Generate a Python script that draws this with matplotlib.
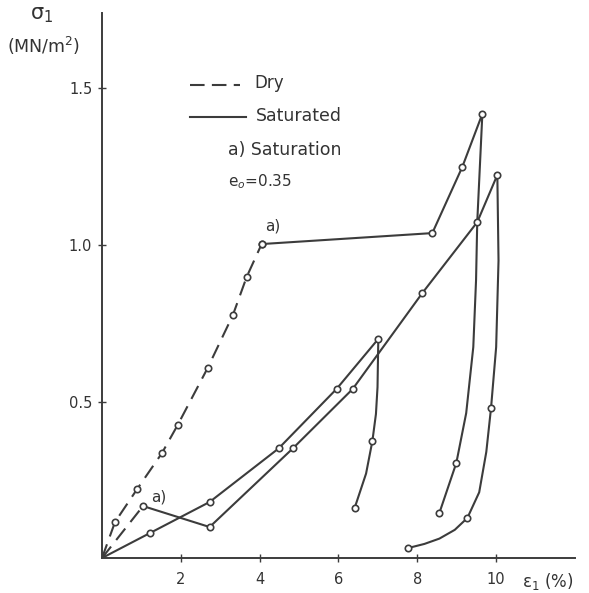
import matplotlib
matplotlib.use("Agg")
import matplotlib.pyplot as plt
from matplotlib.lines import Line2D

# ---- data (strain eps1 in %, stress sigma1 in MN/m^2) ----
# Dry loading to saturation point (dashed)
dry_main_x = [0.0, 0.33, 0.89, 1.52, 1.92, 2.68, 3.32, 3.67, 4.05]
dry_main_y = [0.0, 0.115, 0.22, 0.335, 0.425, 0.607, 0.776, 0.898, 1.003]
dry_main_m = [False, True, True, True, True, True, True, True, True]

dry_low_x = [0.0, 1.04]
dry_low_y = [0.0, 0.166]

# Saturated after dry loading to 1.0 MN/m2
sat_c_x = [4.05, 8.38, 9.14, 9.65, 9.52, 9.49, 9.42, 9.24, 8.99, 8.56]
sat_c_y = [1.003, 1.038, 1.249, 1.419, 1.073, 0.888, 0.674, 0.463, 0.304, 0.144]
sat_c_m = [True, True, True, True, False, False, False, False, True, True]

# Saturated after dry loading to low stress
sat_b_x = [1.04, 2.73, 4.84, 6.36, 8.13, 9.52, 10.03, 10.06, 10.0, 9.87, 9.75, 9.57, 9.27, 8.95, 8.56, 8.18, 7.77]
sat_b_y = [0.166, 0.099, 0.35, 0.54, 0.847, 1.073, 1.224, 0.95, 0.674, 0.479, 0.339, 0.21, 0.128, 0.09, 0.062, 0.045, 0.032]
sat_b_m = [True, True, True, True, True, True, True, False, False, True, False, False, True, False, False, False, True]

# Saturated from start
sat_a_x = [0.0, 1.22, 2.73, 4.48, 5.95, 7.01, 6.99, 6.95, 6.86, 6.7, 6.41]
sat_a_y = [0.0, 0.08, 0.179, 0.35, 0.54, 0.70, 0.546, 0.46, 0.374, 0.27, 0.16]
sat_a_m = [False, True, True, True, True, True, False, False, True, False, True]

x_ticks = [2, 4, 6, 8, 10]
x_tick_labels = ["2", "4", "6", "8", "10"]
y_ticks = [0.5, 1.0, 1.5]
y_tick_labels = ["0.5", "1.0", "1.5"]

INK = "#3c3c3c"
TXT = "#333333"
LW = 1.5

fig = plt.figure(figsize=(5.89, 5.93), dpi=100)
fig.patch.set_facecolor("white")
ax = fig.add_axes([0.1732, 0.059, 0.803, 0.919])
ax.set_xlim(0, 12.0)
ax.set_ylim(0, 1.741)
ax.patch.set_alpha(0)

for s in ("top", "right"):
    ax.spines[s].set_visible(False)
for s in ("left", "bottom"):
    ax.spines[s].set_color(INK)
    ax.spines[s].set_linewidth(1.4)


def draw_line(xs, ys, dashed):
    if dashed:
        ax.plot(xs, ys, color=INK, lw=LW, dashes=(7, 4), zorder=2)
    else:
        ax.plot(xs, ys, color=INK, lw=LW, zorder=2)


def draw_marks(xs, ys, ms):
    mx = [x for x, m in zip(xs, ms) if m]
    my = [y for y, m in zip(ys, ms) if m]
    ax.plot(mx, my, ls="none", marker="o", ms=4.6, mfc="white", mec=INK, mew=1.2, zorder=3)


draw_line(dry_main_x, dry_main_y, True)
draw_line(dry_low_x, dry_low_y, True)
draw_line(sat_c_x, sat_c_y, False)
draw_line(sat_b_x, sat_b_y, False)
draw_line(sat_a_x, sat_a_y, False)
draw_marks(dry_main_x, dry_main_y, dry_main_m)
draw_marks(sat_c_x, sat_c_y, sat_c_m)
draw_marks(sat_b_x, sat_b_y, sat_b_m)
draw_marks(sat_a_x, sat_a_y, sat_a_m)

ax.set_xticks(x_ticks)
ax.set_xticklabels(x_tick_labels)
ax.set_yticks(y_ticks)
ax.set_yticklabels(y_tick_labels)
ax.tick_params(axis="both", direction="inout", length=6, width=1.0, colors=INK,
               labelsize=10.5, labelcolor=TXT)
ax.tick_params(axis="x", pad=7)
ax.tick_params(axis="y", pad=4)

# axis titles
fig.text(30 / 589, 1 - 15 / 593, "σ$_1$", fontsize=15, color=TXT, ha="left", va="center")
fig.text(7 / 589, 1 - 46 / 593, "(MN/m$^2$)", fontsize=12.5, color=TXT, ha="left", va="center")
fig.text(522 / 589, 1 - 581 / 593, "ε$_1$ (%)", fontsize=12, color=TXT, ha="left", va="center")

# annotations "a)"
ax.text(4.15, 1.06, "a)", fontsize=11, color=TXT, ha="left", va="center")
ax.text(1.25, 0.196, "a)", fontsize=11, color=TXT, ha="left", va="center")

# legend block
lx0 = 190 / 589
fig.add_artist(Line2D([lx0, 240 / 589], [1 - 85 / 593] * 2, color=INK, lw=LW, dashes=(7, 3.5)))
fig.text(254 / 589, 1 - 83 / 593, "Dry", fontsize=12, color=TXT, va="center")
fig.add_artist(Line2D([lx0, 246 / 589], [1 - 117 / 593] * 2, color=INK, lw=LW))
fig.text(256 / 589, 1 - 116 / 593, "Saturated", fontsize=12.5, color=TXT, va="center")
fig.text(228 / 589, 1 - 150 / 593, "a) Saturation", fontsize=12.5, color=TXT, va="center")
fig.text(228 / 589, 1 - 182 / 593, "e$_o$=0.35", fontsize=11, color=TXT, va="center")

fig.savefig("out.png", dpi=100)
